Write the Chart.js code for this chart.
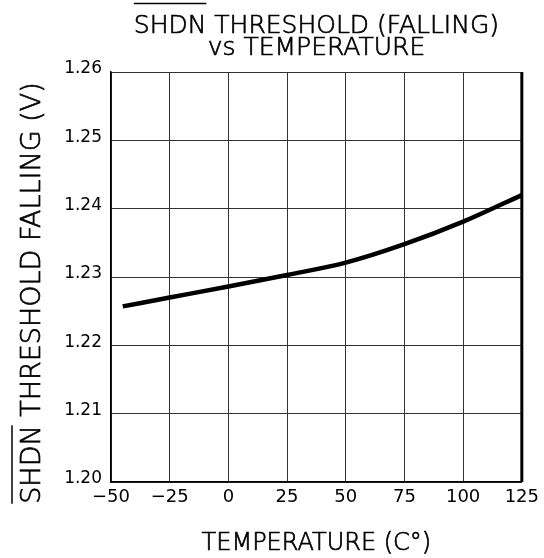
<!DOCTYPE html>
<html>
<head>
<meta charset="utf-8">
<script src="https://cdn.jsdelivr.net/npm/chart.js@4"></script>
<style>body{margin:0;background:#fff}</style>
</head>
<body>
<canvas id="myChart" width="544" height="558"></canvas>
<script>
const temperatures = [-45, -25, 0, 25, 50, 75, 100, 125];
const thresholdVolts = [1.2257, 1.2270, 1.2286, 1.2303, 1.2321, 1.2348, 1.2381, 1.2420];
const xTicks = [-50, -25, 0, 25, 50, 75, 100, 125];
const yTicks = [1.20, 1.21, 1.22, 1.23, 1.24, 1.25, 1.26];
const titleLines = ['SHDN THRESHOLD (FALLING)', 'vs TEMPERATURE'];
const xTitle = 'TEMPERATURE (C\u00b0)';
const yTitle = 'SHDN THRESHOLD FALLING (V)';

const FONT = '"DejaVu Sans"';

// fill + thin stroke, to get a weight between ExtraLight and Book
function drawText(c, s, x, y) {
    c.fillText(s, x, y);
    c.strokeText(s, x, y);
}

// titles drawn by hand so SHDN can get its overline
const textPlugin = {
    id: 'texts',
    afterDraw(chart) {
        const c = chart.ctx, a = chart.chartArea;
        const cx = (a.left + a.right) / 2;
        c.save();
        c.fillStyle = '#000';
        c.strokeStyle = '#000';
        c.textBaseline = 'alphabetic';

        c.font = '200 25px ' + FONT;
        c.lineWidth = 0.7;
        const w1 = c.measureText(titleLines[0]).width;
        const x1 = cx - w1 / 2;
        c.textAlign = 'left';
        drawText(c, titleLines[0], x1, 33);
        const ws = c.measureText('SHDN').width;
        c.lineWidth = 1.5;
        c.beginPath(); c.moveTo(x1, 3.5); c.lineTo(x1 + ws, 3.5); c.stroke();
        c.lineWidth = 0.7;
        c.textAlign = 'center';
        drawText(c, titleLines[1], cx, 55);

        c.font = '200 24px ' + FONT;
        drawText(c, xTitle, cx, 550);

        c.font = '200 27px ' + FONT;
        c.translate(40, 293);
        c.rotate(-Math.PI / 2);
        const wy = c.measureText(yTitle).width;
        c.textAlign = 'left';
        drawText(c, yTitle, -wy / 2, 0);
        const ws2 = c.measureText('SHDN').width;
        c.lineWidth = 1.5;
        c.beginPath(); c.moveTo(-wy / 2, -28); c.lineTo(-wy / 2 + ws2, -28); c.stroke();
        c.restore();

        // heavier right edge of the frame
        c.save();
        c.strokeStyle = '#000';
        c.lineWidth = 3;
        c.beginPath(); c.moveTo(a.right, a.top); c.lineTo(a.right, a.bottom); c.stroke();
        c.restore();
    }
};

let ctx = document.getElementById('myChart');

var myChart = new Chart(ctx, {
    type: 'line',
    data: {
        datasets: [{
            data: temperatures.map((t, i) => ({x: t, y: thresholdVolts[i]})),
            borderColor: '#000',
            borderWidth: 4.5,
            pointRadius: 0,
            cubicInterpolationMode: 'monotone',
            fill: false,
        }]
    },
    options: {
        responsive: false,
        animation: false,
        layout: {padding: {left: 0, top: 72, right: 22, bottom: 0}},
        plugins: {legend: {display: false}, title: {display: false}, tooltip: {enabled: false}},
        scales: {
            x: {
                type: 'linear',
                min: -50,
                max: 125,
                afterBuildTicks: s => { s.ticks = xTicks.map(v => ({value: v})); },
                afterFit: s => { s.height = 76; },
                grid: {color: '#333', lineWidth: 1, drawTicks: false},
                border: {color: '#000', width: 1.5},
                ticks: {
                    color: '#000',
                    padding: 5,
                    font: {family: FONT, size: 18},
                    maxRotation: 0,
                    callback: v => (v < 0 ? '\u2212' + Math.abs(v) : '' + v),
                },
            },
            y: {
                type: 'linear',
                min: 1.20,
                max: 1.26,
                afterBuildTicks: s => { s.ticks = yTicks.map(v => ({value: v})); },
                afterFit: s => { s.width = 111; },
                grid: {color: '#333', lineWidth: 1, drawTicks: false},
                border: {color: '#000', width: 1.5},
                ticks: {
                    color: '#000',
                    padding: 9,
                    labelOffset: -3,
                    font: {family: FONT, size: 17},
                    callback: v => v.toFixed(2),
                },
            },
        },
    },
    plugins: [textPlugin],
});
</script>
</body>
</html>
